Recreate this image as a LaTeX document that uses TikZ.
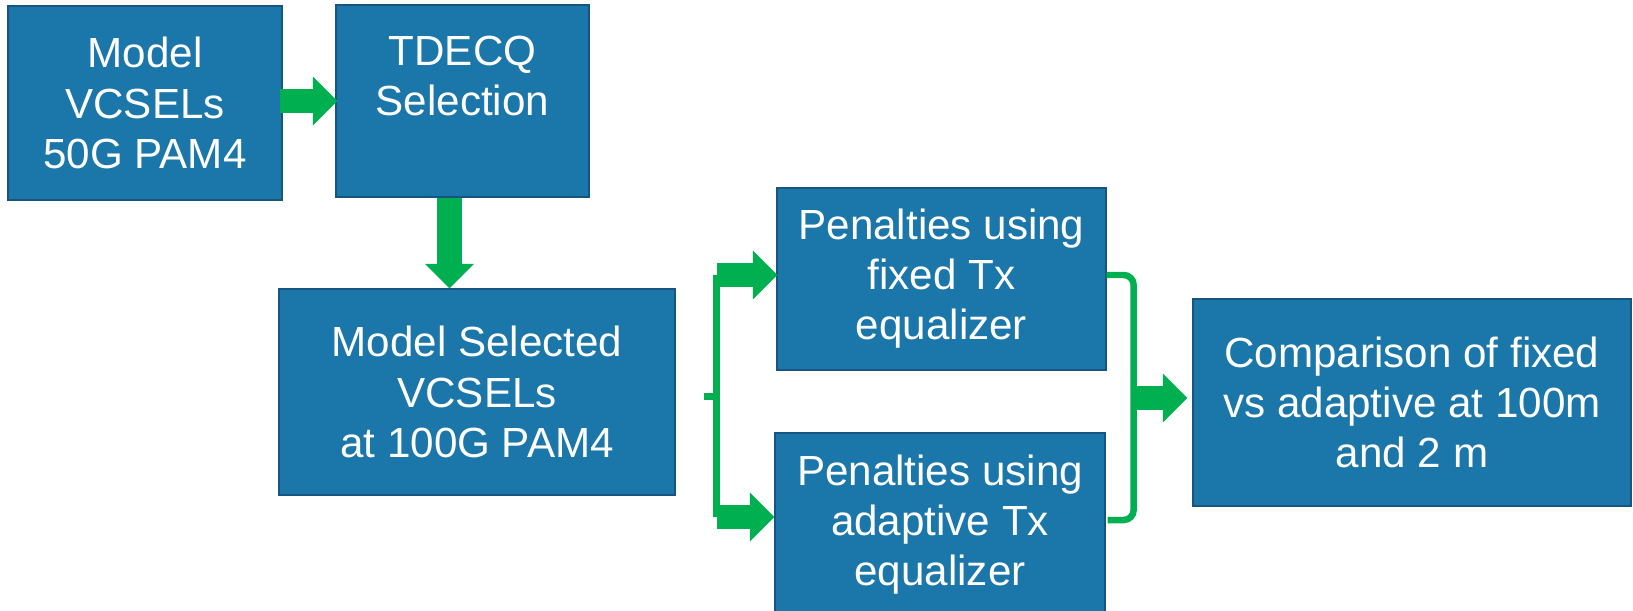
\documentclass[tikz,border=0pt]{standalone}
\usepackage{fontspec}
\setmainfont{Liberation Sans}
\usetikzlibrary{arrows.meta,positioning,calc}
\definecolor{boxblue}{HTML}{1B76AA}
\definecolor{boxedge}{HTML}{15557F}
\definecolor{flowgreen}{HTML}{00B050}
\tikzset{
  stagebox/.style={rectangle,draw=boxedge,line width=0.8pt,fill=boxblue,text=white,
    align=center,inner sep=0pt,font=\fontsize{24}{28.5}\selectfont},
  flowarrow/.style={draw=flowgreen,line width=0.49cm,
    -{Triangle[length=0.49cm,width=0.98cm,line width=0pt]}},
  flowbar/.style={draw=flowgreen,line width=0.14cm},
}

\begin{document}
\begin{tikzpicture}[x=0.02cm,y=-0.02cm]
\useasboundingbox (0,0) rectangle (1633,611);
\node (m50) [stagebox,minimum width=5.48cm,minimum height=3.88cm] at (145,103) {Model\\VCSELs\\50G PAM4};
\node (tdecq) [stagebox,minimum width=5.06cm,minimum height=3.84cm] at (462.5,101) {TDECQ\\Selection\\~};
\node (msel) [stagebox,minimum width=7.92cm,minimum height=4.12cm] at (477,392) {Model Selected\\VCSELs\\at 100G PAM4};
\node (fixedtx) [stagebox,minimum width=6.58cm,minimum height=3.64cm] at (941.5,279) {Penalties using\\fixed Tx\\equalizer};
\node (adapt) [stagebox,minimum width=6.6cm,minimum height=3.68cm] at (940,525) {Penalties using\\adaptive Tx\\equalizer};
\node (cmp) [stagebox,minimum width=8.76cm,minimum height=4.14cm] at (1412,402.5) {Comparison of fixed\\vs adaptive at 100m\\and 2 m};
%
\draw[flowarrow] ($(m50.east)+(-3,-2)$) -- ($(m50.east -| tdecq.west)+(2,-2)$);
\coordinate (drop) at ($(tdecq.south)+(-13,0)$);
\draw[flowarrow] (drop) -- (drop |- msel.north);
%
\coordinate (fork) at ($(msel.east)+(41,4)$);
\coordinate (upper) at ($(fixedtx.west)+(1,-4)$);
\coordinate (lower) at ($(adapt.west)+(0,-8)$);
\draw[flowbar] (fork |- upper) -- (fork |- lower);
\draw[flowbar] (fork) -- ++(-13,0);
\draw[flowarrow] (fork |- upper) -- (upper);
\draw[flowarrow] (fork |- lower) -- (lower);
%
\coordinate (merge) at ($(fixedtx.east)+(27,119)$);
\draw[flowbar,line width=0.13cm,rounded corners=0.2cm] ($(fixedtx.east)+(0,-4)$) -| (merge) |- ($(adapt.east)+(2,-5)$);
\draw[flowarrow] ($(merge)+(-3,0)$) -- ($(merge -| cmp.west)+(-5,0)$);
\end{tikzpicture}
\end{document}
